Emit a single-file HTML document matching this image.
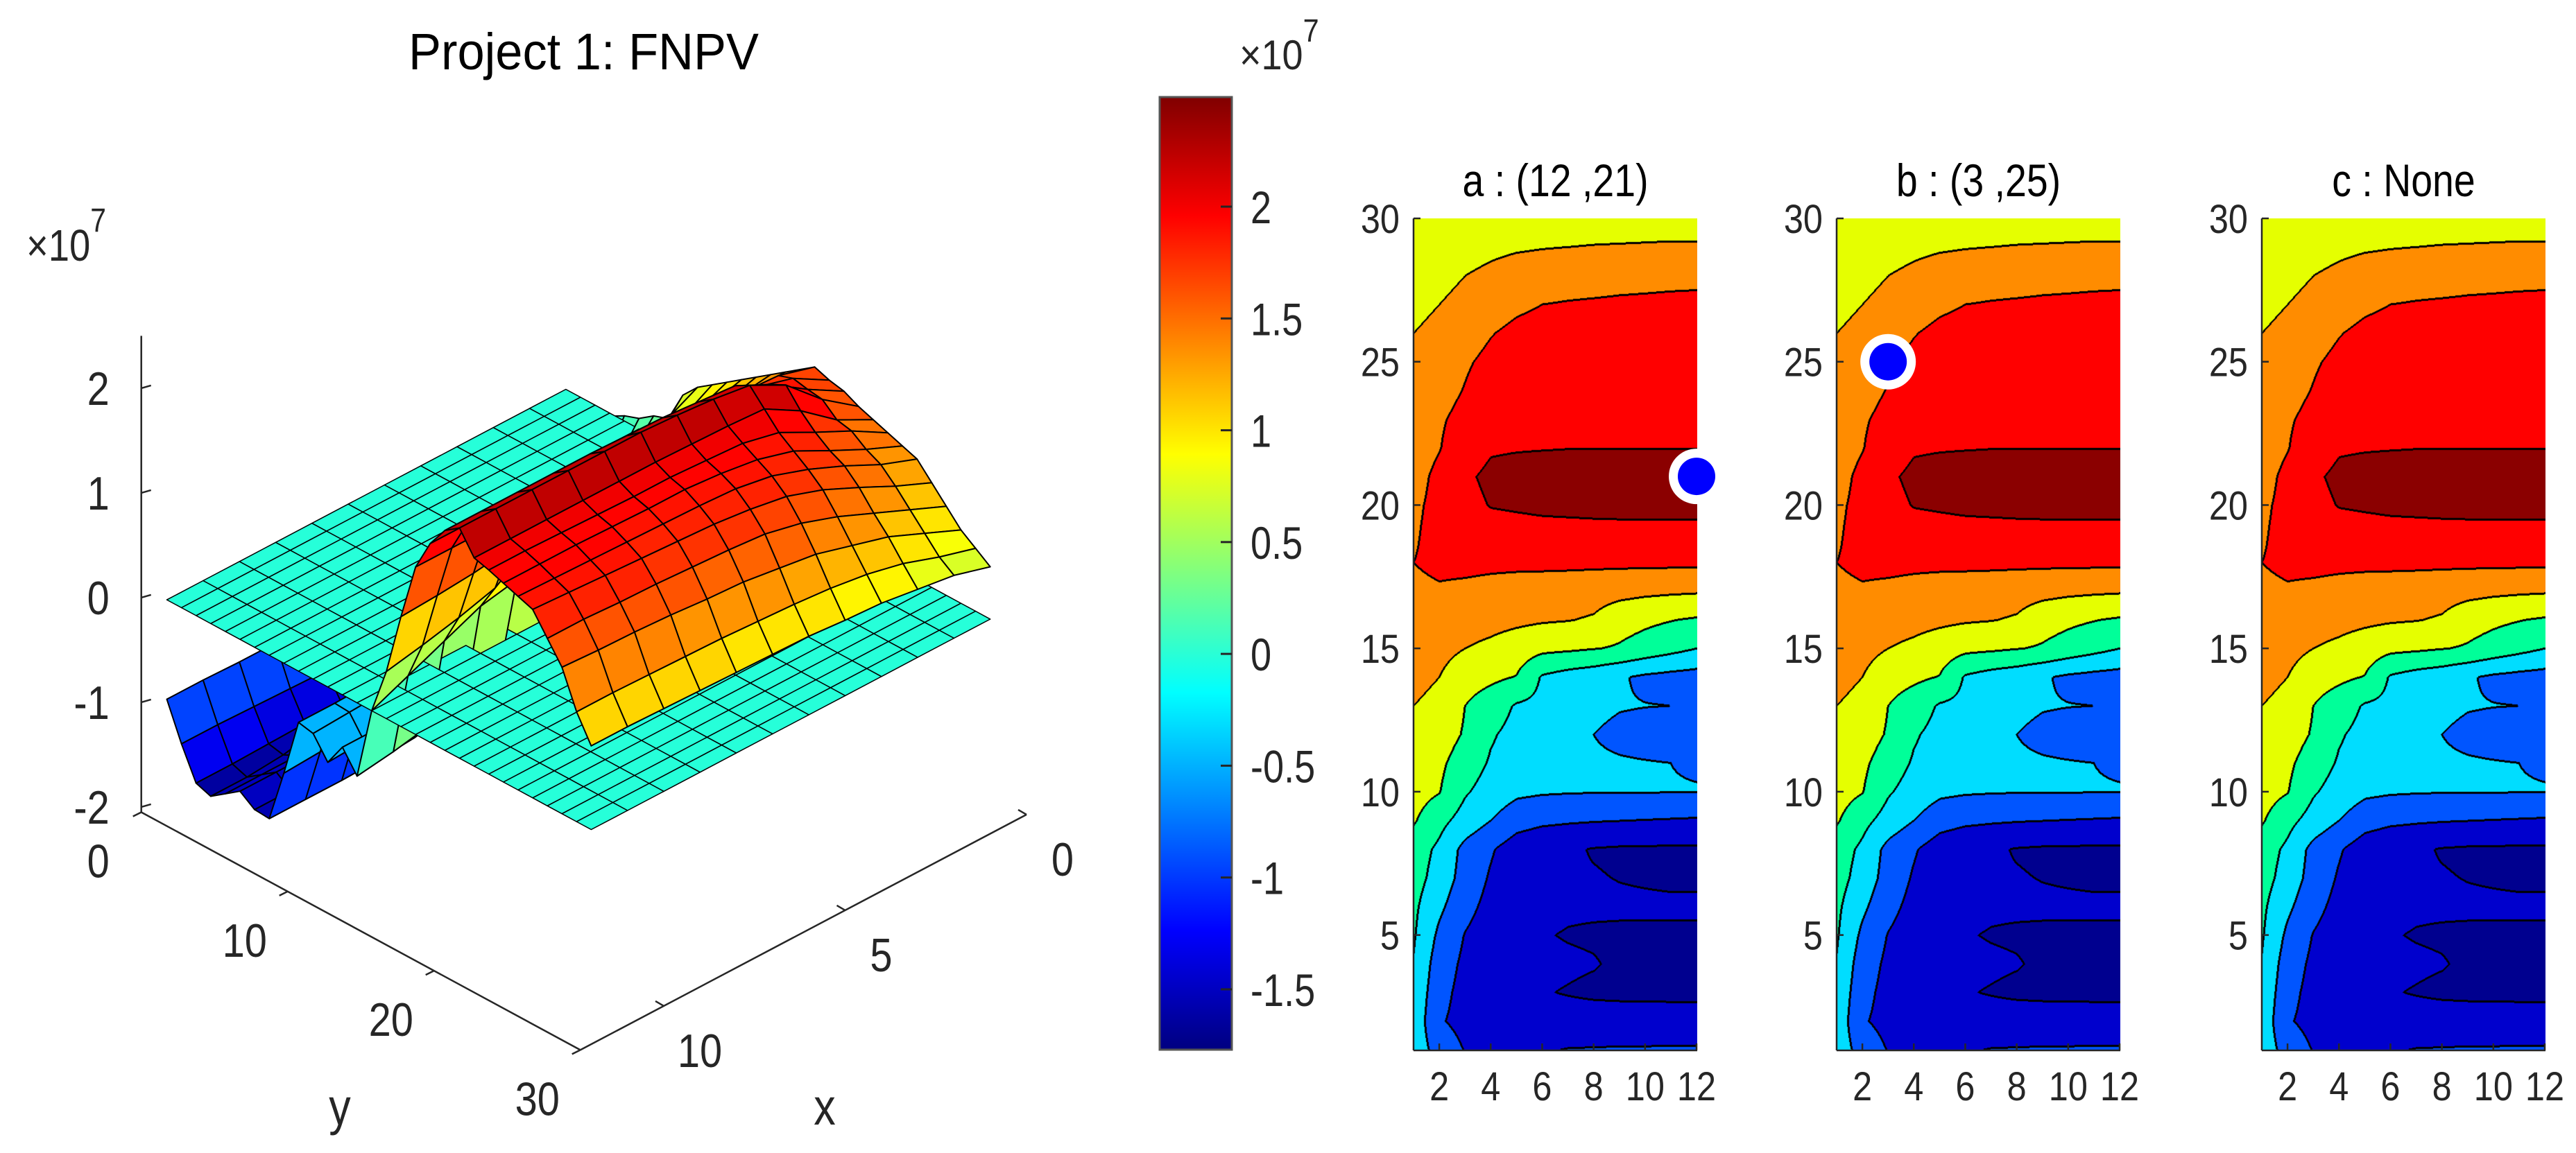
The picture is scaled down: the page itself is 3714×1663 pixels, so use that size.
<!DOCTYPE html>
<html><head><meta charset="utf-8"><style>
html,body{margin:0;padding:0;background:#fff;}
#wrap{position:relative;width:3714px;height:1663px;overflow:hidden;background:#fff;}
svg,canvas{position:absolute;}
text{font-family:"Liberation Sans",sans-serif;fill:#262626;}
</style></head><body>
<div id="wrap">
<svg id="base" width="3714" height="1663" style="left:0;top:0">
  <defs>
    <linearGradient id="jetgrad" x1="0" y1="1" x2="0" y2="0">
      <stop offset="0" stop-color="#000080"/>
      <stop offset="0.125" stop-color="#0000ff"/>
      <stop offset="0.375" stop-color="#00ffff"/>
      <stop offset="0.625" stop-color="#ffff00"/>
      <stop offset="0.875" stop-color="#ff0000"/>
      <stop offset="1" stop-color="#800000"/>
    </linearGradient>
  </defs>
  <text x="589" y="100" font-size="74" textLength="505" lengthAdjust="spacingAndGlyphs" style="fill:#000">Project 1: FNPV</text>
  <text transform="translate(38,376) scale(0.85,1)" font-size="64">×10<tspan dy="-42" font-size="48">7</tspan></text>
  <g id="surf3d"></g>
  <g id="axes3d"></g>
  <rect x="1672" y="140" width="104" height="1374" fill="url(#jetgrad)" stroke="#555" stroke-width="3"/>
  <g id="cbticks"></g>
  <text transform="translate(1787,100) scale(0.9,1)" font-size="60">×10<tspan dy="-40" font-size="46">7</tspan></text>
</svg>
<canvas id="cv0" width="409" height="1200" style="left:2038px;top:315px"></canvas>
<canvas id="cv1" width="409" height="1200" style="left:2648px;top:315px"></canvas>
<canvas id="cv2" width="409" height="1200" style="left:3261px;top:315px"></canvas>
<svg id="topLayer" width="3714" height="1663" style="left:0;top:0"></svg>
</div>
<script>
// ---- data (values in units of 1e7), rows y=1..30, columns x=1..12 ----
const Z = [
[-0.2,-0.7,-1.02,-1.2,-1.25,-1.05,-0.98,-0.97,-0.96,-0.96,-0.95,-0.95],
[-0.15,-0.95,-1.15,-1.3,-1.35,-1.35,-1.35,-1.33,-1.32,-1.31,-1.3,-1.3],
[-0.1,-0.85,-1.15,-1.35,-1.42,-1.48,-1.52,-1.56,-1.58,-1.59,-1.6,-1.6],
[-0.03,-0.75,-1.1,-1.3,-1.38,-1.42,-1.45,-1.48,-1.55,-1.62,-1.65,-1.65],
[0.05,-0.6,-1.02,-1.25,-1.35,-1.48,-1.52,-1.54,-1.55,-1.55,-1.55,-1.55],
[0.1,-0.4,-0.85,-1.15,-1.3,-1.4,-1.45,-1.45,-1.45,-1.45,-1.45,-1.45],
[0.2,-0.2,-0.7,-1.05,-1.3,-1.42,-1.46,-1.48,-1.51,-1.53,-1.55,-1.55],
[0.25,-0.1,-0.65,-0.95,-1.25,-1.38,-1.45,-1.52,-1.55,-1.56,-1.56,-1.56],
[0.55,0.15,-0.2,-0.5,-0.8,-0.9,-0.94,-0.97,-0.99,-1.01,-1.03,-1.05],
[0.7,0.52,0.05,-0.2,-0.4,-0.45,-0.47,-0.48,-0.48,-0.48,-0.49,-0.49],
[0.8,0.6,0.25,-0.05,-0.2,-0.3,-0.38,-0.44,-0.46,-0.48,-0.5,-0.52],
[0.9,0.75,0.45,0.05,-0.15,-0.3,-0.42,-0.5,-0.6,-0.66,-0.7,-0.72],
[1.0,0.9,0.5,0.25,-0.05,-0.12,-0.3,-0.4,-0.47,-0.49,-0.5,-0.5],
[1.1,1.0,0.7,0.6,0.48,-0.05,-0.2,-0.3,-0.45,-0.58,-0.65,-0.7],
[1.2,1.15,1.0,0.9,0.75,0.62,0.58,0.52,0.45,0.3,0.15,0.0],
[1.3,1.3,1.2,1.15,1.1,1.05,1.02,0.95,0.7,0.6,0.52,0.45],
[1.4,1.45,1.4,1.35,1.3,1.28,1.25,1.2,1.15,1.1,1.07,1.05],
[1.5,1.6,1.62,1.6,1.6,1.6,1.6,1.6,1.6,1.6,1.6,1.6],
[1.45,1.65,1.75,1.82,1.85,1.87,1.88,1.89,1.9,1.9,1.9,1.9],
[1.42,1.62,1.85,2.02,2.05,2.08,2.09,2.1,2.1,2.1,2.1,2.1],
[1.35,1.6,1.92,2.1,2.15,2.18,2.2,2.2,2.2,2.2,2.2,2.2],
[1.3,1.48,1.75,1.95,1.97,1.98,1.99,1.99,1.99,1.99,1.99,1.99],
[1.25,1.45,1.62,1.8,1.88,1.9,1.92,1.92,1.93,1.94,1.95,1.95],
[1.2,1.35,1.52,1.7,1.8,1.85,1.88,1.88,1.89,1.9,1.9,1.9],
[1.15,1.28,1.45,1.6,1.72,1.78,1.8,1.81,1.82,1.83,1.84,1.85],
[1.0,1.15,1.32,1.48,1.6,1.66,1.7,1.72,1.74,1.76,1.78,1.8],
[0.85,1.0,1.15,1.3,1.42,1.5,1.53,1.55,1.57,1.58,1.6,1.6],
[0.7,0.85,1.0,1.1,1.2,1.25,1.3,1.32,1.35,1.37,1.38,1.4],
[0.6,0.7,0.82,0.9,0.95,0.98,1.0,1.02,1.03,1.04,1.05,1.05],
[0.5,0.6,0.65,0.7,0.72,0.75,0.76,0.77,0.78,0.79,0.8,0.8]
];
const planeValue = 0;
const levels = [-1.5,-1,-0.5,0,0.5,1,1.5,2];
const panelTitles = ['a : (12 ,21)','b : (3 ,25)','c : None'];
const markerX = [12,3,null];
const markerY = [21,25,null];
const cTicksY = [5,10,15,20,25,30];
const cTicksX = [2,4,6,8,10,12];
const cbTicks = [-1.5,-1,-0.5,0,0.5,1,1.5,2];
const cbLabels = ['-1.5','-1','-0.5','0','0.5','1','1.5','2'];
const zTicks3 = [-2,-1,0,1,2];
const yTicks3 = [0,10,20,30];
const xTicks3 = [0,5,10];
const cmin = -1.77, cmax = 2.49;

const NS = 'http://www.w3.org/2000/svg';
function jet(t){
  t = Math.max(0, Math.min(1, t));
  t = Math.floor(t*63.999)/63;
  const cl = v => Math.max(0, Math.min(1, v));
  const r = cl(Math.min(4*t-1.5, -4*t+4.5)), g = cl(Math.min(4*t-0.5, -4*t+3.5)), b = cl(Math.min(4*t+0.5, -4*t+2.5));
  return 'rgb(' + Math.round(r*255) + ',' + Math.round(g*255) + ',' + Math.round(b*255) + ')';
}
function mk(tag, parent){ const e = document.createElementNS(NS, tag); parent.appendChild(e); return e; }
function txt(parent, name, s, x, y, size, anchor, sx){
  const t = mk('text', parent);
  
  
  t.setAttribute('transform', 'translate(' + x + ',' + y + ') scale(' + sx + ',1)');
  t.setAttribute('font-size', size);
  t.setAttribute('text-anchor', anchor);
  t.textContent = s;
  return t;
}
function line(parent, name, x1, y1, x2, y2, w, col){
  const l = mk('line', parent);
  
  
  l.setAttribute('x1', x1); l.setAttribute('y1', y1); l.setAttribute('x2', x2); l.setAttribute('y2', y2);
  l.setAttribute('stroke', col || '#262626'); l.setAttribute('stroke-width', w);
  return l;
}

// ---- 3D surface ----
const ex = [-52.3, 27.6], ey = [21.1, 11.43], org = [847, 832], zs = 151, zfloor = -2.05;
function P(x, y, z){ return [org[0] + ex[0]*x + ey[0]*y, org[1] + ex[1]*x + ey[1]*y - (z - zfloor)*zs]; }
function close3(x, y, z){ return 0.848*(x/12.3 + y/30)/1.414 + 0.53*(z - zfloor)/4.45*0.87; }
const faces = [];
for (let j = 0; j < Z.length - 1; j++){
  for (let i = 0; i < Z[0].length - 1; i++){
    const xs = [i+1, i+2, i+2, i+1], ys = [j+1, j+1, j+2, j+2];
    const zz = [Z[j][i], Z[j][i+1], Z[j+1][i+1], Z[j+1][i]];
    const zm = (zz[0]+zz[1]+zz[2]+zz[3])/4;
    const zc = Math.max(zz[0], zz[1], zz[2], zz[3]);
    faces.push({xs: xs, ys: ys, zz: zz, c: close3(i+1.5, j+1.5, zm), col: jet((zc - cmin)/(cmax - cmin)), kind: 'surface-face', w: 2});
    faces.push({xs: xs, ys: ys, zz: [planeValue,planeValue,planeValue,planeValue], c: close3(i+1.5, j+1.5, planeValue), col: jet((planeValue - cmin)/(cmax - cmin)), kind: 'plane-face', w: 1.5});
  }
}
faces.sort((a, b) => a.c - b.c);
const surfG = document.getElementById('surf3d');
faces.forEach(f => {
  const pts = f.xs.map((x, k) => P(x, f.ys[k], f.zz[k]).map(v => v.toFixed(1)).join(',')).join(' ');
  const pg = mk('polygon', surfG);
  
  
  pg.setAttribute('points', pts);
  pg.setAttribute('fill', f.col);
  pg.setAttribute('stroke', '#000');
  pg.setAttribute('stroke-width', f.w);
  pg.setAttribute('stroke-linejoin', 'round');
});
// 3D axes
const ax3 = document.getElementById('axes3d');
const XM = 12.3;
const A = P(XM, 0, zfloor), B = P(XM, 30, zfloor), C = P(0, 30, zfloor), T = P(XM, 0, 2.5);
line(ax3, 'z-axis-line', A[0], A[1], T[0], T[1], 2.5);
line(ax3, 'y-axis-line', A[0], A[1], B[0], B[1], 2.5);
line(ax3, 'x-axis-line', B[0], B[1], C[0], C[1], 2.5);
zTicks3.forEach(v => {
  const p = P(XM, 0, v);
  line(ax3, 'z-tick', p[0], p[1], p[0] + 14, p[1] - 4, 2.5);
  txt(ax3, 'z-tick-label', String(v), p[0] - 46, p[1] + 24, 68, 'end', 0.85);
});
yTicks3.forEach(v => {
  const p = P(XM, v, zfloor);
  line(ax3, 'y-tick', p[0], p[1], p[0] - 12, p[1] + 6, 2.5);
  txt(ax3, 'y-tick-label', String(v), p[0] - 62, p[1] + 94, 68, 'middle', 0.85);
});
xTicks3.forEach(v => {
  const p = P(v, 30, zfloor);
  line(ax3, 'x-tick', p[0], p[1], p[0] - 12, p[1] - 7, 2.5);
  txt(ax3, 'x-tick-label', String(v), p[0] + 52, p[1] + 88, 68, 'middle', 0.85);
});
txt(ax3, 'y-axis-title', 'y', 490, 1622, 74, 'middle', 0.85);
txt(ax3, 'x-axis-title', 'x', 1189, 1622, 74, 'middle', 0.85);

// ---- colorbar ticks ----
const cbG = document.getElementById('cbticks');
const cbTop = 140, cbBot = 1514;
function cbY(v){ return cbBot - (v - cmin)/(cmax - cmin)*(cbBot - cbTop); }
cbTicks.forEach((v, k) => {
  const y = cbY(v);
  line(cbG, 'colorbar-tick', 1760, y, 1776, y, 3);
  txt(cbG, 'colorbar-tick-label', cbLabels[k], 1803, y + 24, 66, 'start', 0.82);
});

// ---- contour panels ----
const bandColors = [[0,0,143],[0,0,205],[0,85,255],[0,221,255],[0,255,153],[229,255,0],[255,140,0],[255,0,0],[139,0,0]];
const W = 409, H = 1200;
function interp(x, y){
  let i = Math.floor(x - 1), j = Math.floor(y - 1);
  i = Math.max(0, Math.min(Z[0].length - 2, i)); j = Math.max(0, Math.min(Z.length - 2, j));
  const fx = x - 1 - i, fy = y - 1 - j;
  return Z[j][i]*(1-fx)*(1-fy) + Z[j][i+1]*fx*(1-fy) + Z[j+1][i]*(1-fx)*fy + Z[j+1][i+1]*fx*fy;
}
const idx = new Int8Array(W*H);
for (let py = 0; py < H; py++){
  const y = 30 - py/(H-1)*29;
  for (let px = 0; px < W; px++){
    const x = 1 + px/(W-1)*11;
    const z = interp(x, y);
    let k = 0; while (k < levels.length && z >= levels[k]) k++;
    idx[py*W + px] = k;
  }
}
function differs(px, py, k){
  if (px < 0 || px >= W || py < 0 || py >= H) return false;
  return idx[py*W + px] !== k;
}
const panelLeft = [2038, 2648, 3261];
const topSvg = document.getElementById('topLayer');
for (let p = 0; p < 3; p++){
  const cv = document.getElementById('cv' + p);
  const ctx = cv.getContext('2d');
  const im = ctx.createImageData(W, H);
  for (let py = 0; py < H; py++){
    for (let px = 0; px < W; px++){
      const k = idx[py*W + px];
      const edge = differs(px+1,py,k) || differs(px-1,py,k) || differs(px,py+1,k) || differs(px,py-1,k) || differs(px+2,py,k) || differs(px,py+2,k);
      const c = edge ? [0,0,0] : bandColors[k];
      const o = (py*W + px)*4;
      im.data[o] = c[0]; im.data[o+1] = c[1]; im.data[o+2] = c[2]; im.data[o+3] = 255;
    }
  }
  ctx.putImageData(im, 0, 0);

  const L = panelLeft[p], R = L + W, Tp = 315, Bt = 315 + H;
  const xs = v => L + (v - 1)/11*(W - 1);
  const ys = v => Tp + (30 - v)/29*(H - 1);
  line(topSvg, 'contour-y-axis-line', L, Tp, L, Bt, 2.5);
  line(topSvg, 'contour-x-axis-line', L, Bt, R, Bt, 2.5);
  cTicksY.forEach(v => {
    line(topSvg, 'contour-y-tick', L, ys(v), L + 10, ys(v), 2.5);
    txt(topSvg, 'contour-y-tick-label', String(v), L - 20, ys(v) + 21, 58, 'end', 0.87);
  });
  cTicksX.forEach(v => {
    line(topSvg, 'contour-x-tick', xs(v), Bt, xs(v), Bt - 10, 2.5);
    txt(topSvg, 'contour-x-tick-label', String(v), xs(v), 1587, 58, 'middle', 0.87);
  });
  const tt = txt(topSvg, 'contour-panel-title', panelTitles[p], L + W/2, 283, 66, 'middle', 0.84);
  tt.style.fill = '#000';
  if (markerX[p] !== null){
    const cx = xs(markerX[p]), cy = ys(markerY[p]);
    const ring = mk('circle', topSvg);
    
    
    ring.setAttribute('cx', cx); ring.setAttribute('cy', cy); ring.setAttribute('r', 40); ring.setAttribute('fill', '#fff');
    const dot = mk('circle', topSvg);
    
    
    dot.setAttribute('cx', cx); dot.setAttribute('cy', cy); dot.setAttribute('r', 27); dot.setAttribute('fill', '#0000ff');
  }
}
</script>
</body></html>
